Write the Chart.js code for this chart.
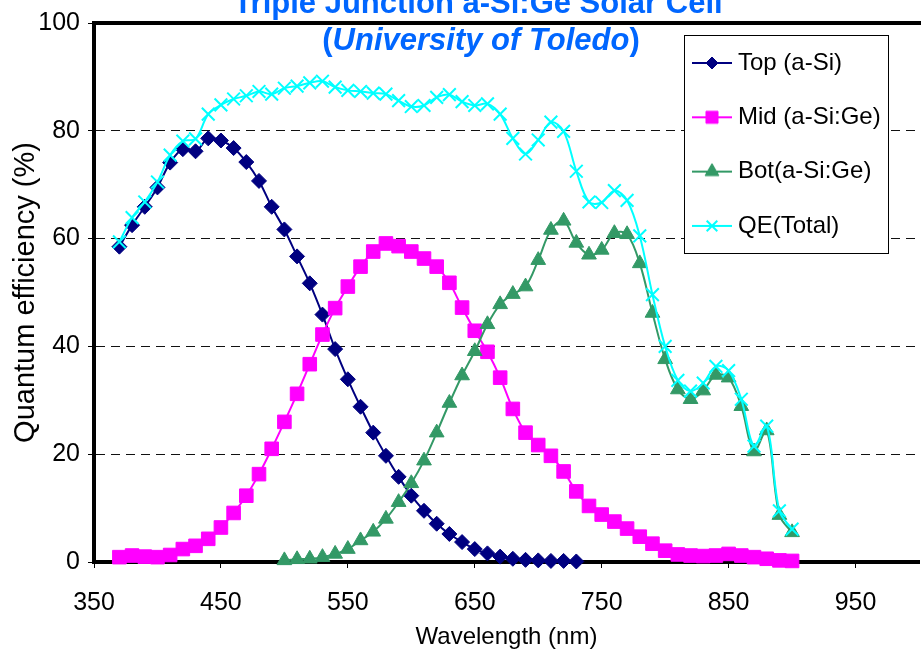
<!DOCTYPE html>
<html><head><meta charset="utf-8">
<script src="https://cdn.jsdelivr.net/npm/chart.js@4.4.1/dist/chart.umd.min.js"></script>
<style>
html,body{margin:0;padding:0;background:#fff;overflow:hidden;width:922px;height:654px}
#wrap{position:absolute;left:0;top:0;width:930px;height:654px}
</style>
</head><body><div id="wrap"><canvas id="c" width="930" height="654"></canvas></div>
<script>
// ---- data ----
const titleLine1 = 'Triple Junction a-Si:Ge Solar Cell';
const titleLine2 = ['(', 'University of Toledo', ')'];
const xTitle = 'Wavelength (nm)';
const yTitle = 'Quantum efficiency (%)';
const xTicks = [350, 450, 550, 650, 750, 850, 950];
const yTicks = [0, 20, 40, 60, 80, 100];

const topWl = [370,380,390,400,410,420,430,440,450,460,470,480,490,500,510,520,530,540,550,560,570,580,590,600,610,620,630,640,650,660,670,680,690,700,710,720,730];
const topQE = [58.5,62.5,65.9,69.5,74.1,76.6,76.2,78.6,78.2,76.8,74.2,70.7,65.9,61.7,56.7,51.7,45.9,39.5,33.9,28.8,24.0,19.7,15.8,12.3,9.5,7.1,5.2,3.7,2.4,1.6,1.0,0.6,0.4,0.3,0.2,0.2,0.1];

const midWl = [370,380,390,400,410,420,430,440,450,460,470,480,490,500,510,520,530,540,550,560,570,580,590,600,610,620,630,640,650,660,670,680,690,700,710,720,730,740,750,760,770,780,790,800,810,820,830,840,850,860,870,880,890,900];
const midQE = [0.9,1.2,1.0,0.9,1.3,2.4,3.0,4.3,6.4,9.1,12.3,16.3,21.0,26.0,31.2,36.7,42.2,47.1,51.1,54.8,57.6,59.1,58.6,57.6,56.3,54.8,51.8,47.2,42.9,39.0,34.2,28.4,24.0,21.7,19.7,16.8,13.1,10.4,8.8,7.5,6.2,4.7,3.4,2.1,1.4,1.2,1.1,1.2,1.5,1.2,0.9,0.6,0.3,0.2];

const botWl = [500,510,520,530,540,550,560,570,580,590,600,610,620,630,640,650,660,670,680,690,700,710,720,730,740,750,760,770,780,790,800,810,820,830,840,850,860,870,880,890,900];
const botQE = [0.3,0.5,0.6,0.9,1.5,2.4,4.0,5.6,8.0,11.1,14.6,18.8,24.0,29.5,34.6,39.1,44.1,47.8,49.7,51.1,56.0,61.6,63.3,59.2,57.0,57.9,61.0,60.8,55.4,46.2,37.6,32.0,30.2,31.8,34.7,34.2,28.9,20.5,24.4,8.7,5.5];

const qeWl = [370,380,390,400,410,420,430,440,450,460,470,480,490,500,510,520,530,540,550,560,570,580,590,600,610,620,630,640,650,660,670,680,690,700,710,720,730,740,750,760,770,780,790,800,810,820,830,840,850,860,870,880,890,900];
const qeQE = [59.4,63.9,66.8,70.5,75.5,78.1,78.5,83.1,84.8,85.9,86.5,87.3,86.8,87.9,88.3,88.9,89.2,88.1,87.5,87.3,87.0,86.8,85.6,84.5,84.7,86.2,86.7,85.4,84.7,85.0,83.1,78.6,75.7,78.3,81.6,79.9,72.5,66.8,66.7,68.9,67.1,60.5,49.6,40.0,33.7,31.7,33.2,36.3,35.5,30.2,21.5,25.2,9.5,6.1];

const seriesLabels = ['Top (a-Si)', 'Mid (a-Si:Ge)', 'Bot(a-Si:Ge)', 'QE(Total)'];

// ---- font detection ----
function hasFont(name){
  const c = document.createElement('canvas').getContext('2d');
  const t = 'Mid (a-Si:Ge) 0123456789 Wavelength';
  let r = false;
  ['monospace','serif'].forEach(g => {
    c.font = '40px ' + g; const a = c.measureText(t).width;
    c.font = '40px "' + name + '", ' + g; const b = c.measureText(t).width;
    if (Math.abs(a - b) > 0.5) r = true;
  });
  return r;
}
const NARROW = hasFont('Liberation Sans Narrow');
const FAM = NARROW ? '"Liberation Sans Narrow", "Liberation Sans", Arial' : '"Liberation Sans", Arial, sans-serif';
const REG = '"Liberation Sans", Arial, sans-serif';
const TICK_FS = NARROW ? 29 : 25;
const LEG_FS = NARROW ? 29 : 24;
const XT_FS = NARROW ? 28 : 24;
const LEG_PAD = 54.3 - LEG_FS;
const LEG_BW = 52 - LEG_FS;

function pts(xs, ys){ return xs.map((x, i) => ({x: x, y: ys[i]})); }

const styles = [
  {color:'#000080', pointStyle:'rectRot', r:7.5, bw:1},
  {color:'#FF00FF', pointStyle:'rect', r:9.6, bw:1},
  {color:'#339966', pointStyle:'triangle', r:8.5, bw:1},
  {color:'#00FFFF', pointStyle:'crossRot', r:9, bw:2}
];
const legR = [6, 8.5, 8, 7.5];

function makeIcon(i){
  const cv = document.createElement('canvas');
  cv.width = 40; cv.height = 22;
  const c = cv.getContext('2d');
  const s = styles[i];
  c.strokeStyle = s.color; c.fillStyle = s.color; c.lineWidth = 2;
  c.beginPath(); c.moveTo(0, 11); c.lineTo(40, 11); c.stroke();
  c.lineWidth = s.bw;
  Chart.helpers.drawPoint(c, {pointStyle: s.pointStyle, radius: legR[i], rotation: 0, borderWidth: s.bw}, 20, 11);
  return cv;
}

const allData = [pts(topWl, topQE), pts(midWl, midQE), pts(botWl, botQE), pts(qeWl, qeQE)];
const datasets = allData.map((d, i) => ({
  label: seriesLabels[i],
  data: d,
  borderColor: styles[i].color,
  backgroundColor: styles[i].color,
  pointStyle: styles[i].pointStyle,
  pointRadius: styles[i].r,
  pointHoverRadius: styles[i].r,
  pointBorderWidth: styles[i].bw,
  borderWidth: 2,
  tension: 0.35,
  clip: false,
  order: 4 - i
}));

const framePlugin = {
  id: 'frame',
  afterLayout(chart){
    const lg = chart.legend;
    if (!lg) return;
    if (!lg._origDraw){ lg._origDraw = lg.draw; lg.draw = function(){}; }
    lg.left = 712 - LEG_BW/2 - LEG_PAD;
    lg.top = 63 - LEG_PAD - LEG_FS/2;
    lg.width = 230; lg.height = 520;
    lg.right = lg.left + 230; lg.bottom = lg.top + 520;
  },
  beforeDatasetsDraw(chart){
    const {ctx, chartArea} = chart;
    ctx.save();
    ctx.strokeStyle = '#000'; ctx.lineWidth = 4;
    ctx.beginPath();
    ctx.moveTo(chartArea.left - 2, chartArea.top);
    ctx.lineTo(chartArea.right + 2, chartArea.top);
    ctx.stroke();
    ctx.restore();
  },
  afterDraw(chart){
    const ctx = chart.ctx;
    ctx.save();
    ctx.fillStyle = '#fff';
    ctx.fillRect(684, 35, 204, 218);
    ctx.strokeStyle = '#000'; ctx.lineWidth = 1;
    ctx.strokeRect(684.5, 35.5, 204, 218);
    ctx.restore();
    if (chart.legend && chart.legend._origDraw) chart.legend._origDraw.call(chart.legend);
    ctx.save();
    ctx.fillStyle = '#0066FF';
    ctx.textBaseline = 'alphabetic';
    ctx.font = 'bold 31px ' + REG;
    ctx.textAlign = 'center';
    ctx.fillText(titleLine1, 478, 13);
    ctx.textAlign = 'left';
    const fonts = ['bold 31px ' + REG, 'italic bold 31px ' + REG, 'bold 31px ' + REG];
    let total = 0;
    const w = titleLine2.map((t, i) => { ctx.font = fonts[i]; const m = ctx.measureText(t).width; total += m; return m; });
    let x = 481 - total/2;
    titleLine2.forEach((t, i) => { ctx.font = fonts[i]; ctx.fillText(t, x, 50); x += w[i]; });
    ctx.restore();
  }
};

new Chart(document.getElementById('c'), {
  type: 'line',
  data: { datasets: datasets },
  options: {
    responsive: false,
    animation: false,
    events: [],
    layout: { padding: { top: 20, right: 5, bottom: 0, left: 0 } },
    plugins: {
      title: { display: false },
      tooltip: { enabled: false },
      legend: {
        display: true,
        position: 'chartArea',
        align: 'start',
        labels: {
          usePointStyle: true,
          pointStyleWidth: LEG_BW,
          padding: LEG_PAD,
          color: '#000',
          font: { family: FAM, size: LEG_FS },
          generateLabels: (chart) => chart.data.datasets.map((ds, i) => ({
            text: ds.label, pointStyle: makeIcon(i), fillStyle: 'rgba(0,0,0,0)',
            strokeStyle: 'rgba(0,0,0,0)', lineWidth: 0, hidden: false, datasetIndex: i, fontColor: '#000'
          }))
        }
      }
    },
    scales: {
      x: {
        type: 'linear', min: 350, max: 1000,
        afterBuildTicks: (s) => { s.ticks = xTicks.map(v => ({value: v})); },
        afterFit: (s) => { s.height = 92; },
        grid: { drawOnChartArea: false, drawTicks: true, tickLength: 6, tickColor: '#000', tickWidth: 1 },
        border: { display: true, color: '#000', width: 4 },
        ticks: { color: '#000', font: { family: FAM, size: TICK_FS }, padding: 35 - TICK_FS*0.6, maxRotation: 0, autoSkip: false },
        title: { display: true, text: xTitle, color: '#000', font: { family: FAM, size: XT_FS }, padding: { top: 0, bottom: 17 - XT_FS*0.6 } }
      },
      y: {
        min: 0, max: 100,
        afterBuildTicks: (s) => { s.ticks = yTicks.map(v => ({value: v})); },
        afterFit: (s) => { s.width = 94; },
        grid: {
          color: (c) => (c.tick && (c.tick.value === 0 || c.tick.value === 100)) ? 'rgba(0,0,0,0)' : '#111',
          lineWidth: 1, drawTicks: true, tickLength: 6, tickColor: '#000', tickWidth: 1
        },
        border: { display: true, color: '#000', width: 4, dash: [9, 6] },
        ticks: { color: '#000', font: { family: FAM, size: TICK_FS }, padding: 8 },
        title: { display: true, text: yTitle, color: '#000', font: { family: REG, size: 29 }, padding: { top: 8.6, bottom: 0 } }
      }
    }
  },
  plugins: [framePlugin]
});
</script>
</body></html>
